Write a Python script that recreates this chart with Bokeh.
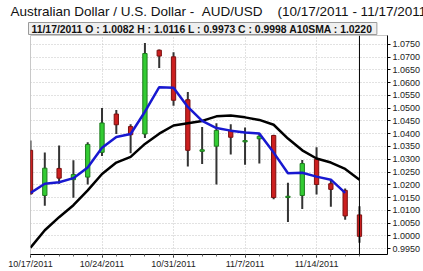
from bokeh.plotting import figure
from bokeh.models import (ColumnDataSource, Span, FixedTicker, NumeralTickFormatter,
                          Range1d, Title)
from bokeh.embed import file_html
from bokeh.resources import INLINE

dates = ["10/17/2011", "10/18/2011", "10/19/2011", "10/20/2011", "10/21/2011",
         "10/24/2011", "10/25/2011", "10/26/2011", "10/27/2011", "10/28/2011",
         "10/31/2011", "11/1/2011", "11/2/2011", "11/3/2011", "11/4/2011",
         "11/7/2011", "11/8/2011", "11/9/2011", "11/10/2011", "11/11/2011",
         "11/14/2011", "11/15/2011", "11/16/2011", "11/17/2011"]
opens = [1.0335, 1.0158, 1.0264, 1.0220, 1.0230, 1.0327, 1.0477, 1.0428, 1.0399, 1.0727,
         1.0701, 1.0533, 1.0331, 1.0351, 1.0413, 1.0368, 1.0380, 1.0393, 1.0150, 1.0158,
         1.0300, 1.0204, 1.0178, 1.0082]
highs = [1.0373, 1.0326, 1.0354, 1.0296, 1.0367, 1.0501, 1.0493, 1.0437, 1.0755, 1.0730,
         1.0719, 1.0563, 1.0426, 1.0441, 1.0437, 1.0424, 1.0399, 1.0396, 1.0208, 1.0297,
         1.0347, 1.0217, 1.0185, 1.0116]
lows = [1.0160, 1.0118, 1.0204, 1.0149, 1.0201, 1.0313, 1.0399, 1.0323, 1.0383, 1.0657,
        1.0509, 1.0272, 1.0281, 1.0201, 1.0319, 1.0278, 1.0283, 1.0143, 1.0054, 1.0105,
        1.0162, 1.0114, 1.0063, 0.9973]
closes = [1.0165, 1.0265, 1.0226, 1.0240, 1.0358, 1.0442, 1.0435, 1.0396, 1.0714, 1.0704,
          1.0531, 1.0335, 1.0337, 1.0413, 1.0386, 1.0373, 1.0390, 1.0150, 1.0155, 1.0283,
          1.0201, 1.0182, 1.0078, 0.9998]
sma10 = [0.9954, 1.0022, 1.0073, 1.0120, 1.0178, 1.0242, 1.0287, 1.0309, 1.0360, 1.0400,
         1.0432, 1.0441, 1.0450, 1.0468, 1.0471, 1.0464, 1.0454, 1.0435, 1.0381, 1.0335,
         1.0303, 1.0287, 1.0262, 1.0220]
blue_avg = [1.0168, 1.0204, 1.0210, 1.0226, 1.0268, 1.0345, 1.0387, 1.0399, 1.0486, 1.0582,
            1.0580, 1.0505, 1.0450, 1.0422, 1.0412, 1.0405, 1.0401, 1.0326, 1.0245, 1.0247,
            1.0232, 1.0220, 1.0168]
y_ticks = [0.9950, 1.0000, 1.0050, 1.0100, 1.0150, 1.0200, 1.0250, 1.0300, 1.0350,
           1.0400, 1.0450, 1.0500, 1.0550, 1.0600, 1.0650, 1.0700, 1.0750]
x_tick_labels = ["10/17/2011", "10/24/2011", "10/31/2011", "11/7/2011", "11/14/2011"]

NB = "\u00a0"
title_text = ("Australian Dollar / U.S. Dollar -" + NB * 2 + "AUD/USD" + NB * 4
              + "(10/17/2011 - 11/17/2011)")
header = "11/17/2011 O : 1.0082 H : 1.0116 L : 0.9973 C : 0.9998 A10SMA : 1.0220"

idx = list(range(len(dates)))
up = [c >= o for o, c in zip(opens, closes)]
src = ColumnDataSource(dict(
    x=idx, high=highs, low=lows,
    top=[max(o, c) for o, c in zip(opens, closes)],
    bottom=[min(o, c) for o, c in zip(opens, closes)],
    fill=["#33cc33" if u else "#cc1f1f" for u in up],
    line=["#1d7a1d" if u else "#7a1010" for u in up],
))

p = figure(width=423, height=271, output_backend="svg", toolbar_location=None,
           x_range=Range1d(0, 24.96), y_range=Range1d(0.99269, 1.07846),
           y_axis_location="right",
           min_border_left=30, min_border_right=36, min_border_top=34, min_border_bottom=14)
p.background_fill_color = "white"
p.border_fill_color = "white"
p.outline_line_color = "#c8c8c8"

# grid
p.ygrid.ticker = FixedTicker(ticks=y_ticks)
p.xgrid.ticker = FixedTicker(ticks=[0, 5, 10, 15, 20])
for g in (p.xgrid, p.ygrid):
    g.grid_line_color = "#c4c4c4"
    g.grid_line_dash = "1 2"
    g.grid_line_width = 1

# axes
p.yaxis.ticker = FixedTicker(ticks=y_ticks)
p.yaxis.formatter = NumeralTickFormatter(format="0.0000")
p.xaxis.ticker = FixedTicker(ticks=[0, 5, 10, 15, 20], minor_ticks=idx)
p.xaxis.major_label_overrides = {i * 5: lab for i, lab in enumerate(x_tick_labels)}
for ax in (p.xaxis, p.yaxis):
    ax.axis_line_color = "black"
    ax.axis_line_width = 1
    ax.major_tick_line_color = "black"
    ax.minor_tick_line_color = "#666666"
    ax.major_tick_in = 0
    ax.major_tick_out = 3
    ax.minor_tick_in = 0
    ax.minor_tick_out = 2
    ax.major_label_text_font = "Liberation Sans"
    ax.major_label_text_font_size = "9px"
    ax.major_label_text_color = "#222222"
p.xaxis.major_label_standoff = 1
p.yaxis.major_label_standoff = 2
p.yaxis.minor_tick_line_color = None

# candles
p.segment(x0="x", y0="low", x1="x", y1="high", source=src, line_color="#333333", line_width=2)
p.vbar(x="x", width=0.3, top="top", bottom="bottom", source=src,
       fill_color="fill", line_color="line", line_width=1)

# moving averages
p.line(idx, sma10, line_color="black", line_width=2.5)
p.line(idx[:len(blue_avg)], blue_avg, line_color="#1818d0", line_width=2.5)

# cursor line
p.add_layout(Span(location=idx[-1], dimension="height", line_color="black", line_width=1))

# header (nearest the frame) and title above it
p.add_layout(Title(text=header, align="left", offset=-2, standoff=2,
                   text_font="Liberation Sans", text_font_style="bold",
                   text_font_size="10.4px", text_color="#111111",
                   background_fill_color="#efefef", border_line_color="#9a9a9a",
                   padding=dict(left=3, right=4, top=1, bottom=0)), "above")
p.add_layout(Title(text=title_text, align="left", offset=-20, standoff=2,
                   text_font="Liberation Sans", text_font_style="normal",
                   text_font_size="13.5px", text_color="#111111"), "above")

open("out.html", "w").write(file_html(p, INLINE))
